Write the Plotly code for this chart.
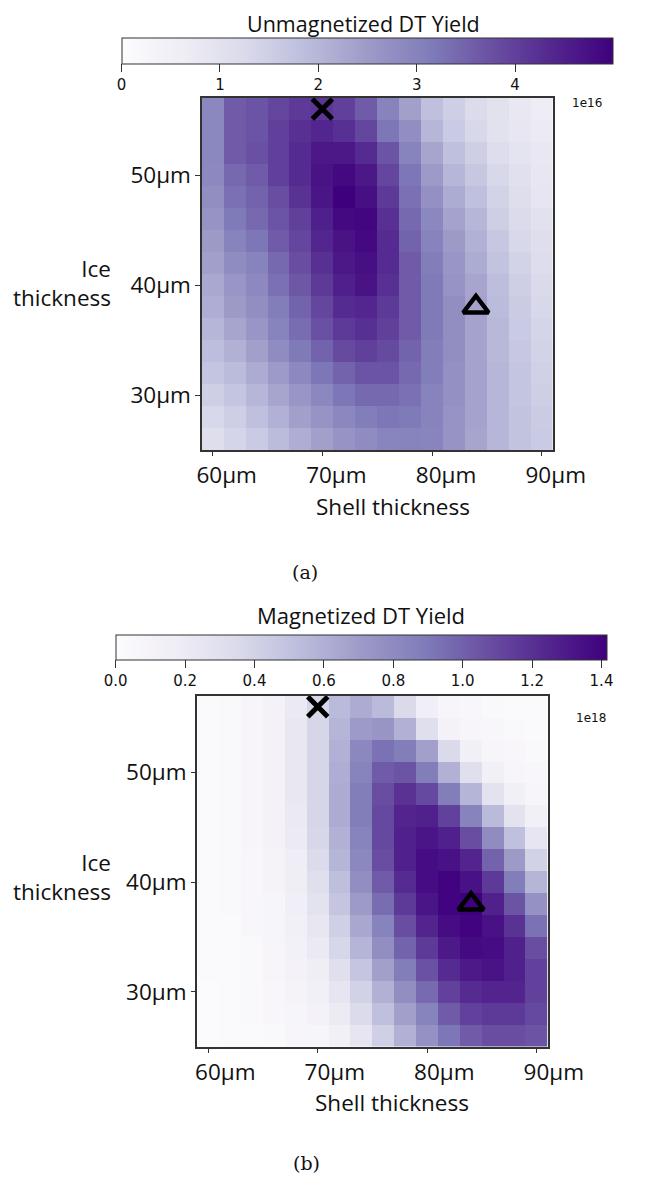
import plotly.graph_objects as go

# ---------------- data ----------------
shell_um = [60, 62, 64, 66, 68, 70, 72, 74, 76, 78, 80, 82, 84, 86, 88, 90]
ice_um = [56, 54, 52, 50, 48, 46, 44, 42, 40, 38, 36, 34, 32, 30, 28, 26]  # top row first

# Unmagnetized DT yield, units of 1e16 (rows: ice thickness 56 -> 26 um)
unmag_yield = [
    [2.90, 3.60, 3.70, 3.90, 4.10, 4.15, 4.00, 3.60, 3.00, 2.40, 1.80, 1.50, 1.20, 1.00, 0.80, 0.65],
    [2.90, 3.60, 3.70, 4.00, 4.25, 4.40, 4.25, 3.90, 3.20, 2.75, 2.00, 1.60, 1.30, 1.00, 0.85, 0.70],
    [2.90, 3.60, 3.75, 4.00, 4.30, 4.60, 4.60, 4.30, 3.70, 3.00, 2.30, 1.80, 1.50, 1.15, 0.95, 0.80],
    [2.85, 3.40, 3.60, 4.00, 4.30, 4.70, 4.85, 4.60, 3.90, 3.20, 2.50, 2.00, 1.65, 1.30, 1.05, 0.85],
    [2.75, 3.30, 3.50, 3.80, 4.20, 4.65, 4.99, 4.75, 4.10, 3.30, 2.70, 2.20, 1.80, 1.40, 1.10, 0.90],
    [2.65, 3.15, 3.40, 3.70, 4.00, 4.50, 4.85, 4.90, 4.25, 3.40, 2.90, 2.35, 2.00, 1.50, 1.20, 1.00],
    [2.50, 3.00, 3.20, 3.60, 3.90, 4.40, 4.70, 4.85, 4.30, 3.50, 3.00, 2.50, 2.10, 1.65, 1.30, 1.10],
    [2.40, 2.80, 3.00, 3.40, 3.80, 4.25, 4.60, 4.75, 4.30, 3.60, 3.10, 2.60, 2.20, 1.75, 1.40, 1.15],
    [2.25, 2.60, 2.85, 3.30, 3.65, 4.10, 4.50, 4.70, 4.25, 3.60, 3.15, 2.65, 2.30, 1.85, 1.50, 1.25],
    [2.15, 2.50, 2.75, 3.10, 3.50, 3.90, 4.30, 4.40, 4.10, 3.60, 3.15, 2.75, 2.35, 1.90, 1.55, 1.30],
    [2.00, 2.30, 2.60, 3.00, 3.35, 3.75, 4.10, 4.25, 4.00, 3.60, 3.15, 2.75, 2.35, 1.95, 1.60, 1.35],
    [1.85, 2.10, 2.40, 2.80, 3.15, 3.50, 3.85, 4.00, 3.85, 3.50, 3.10, 2.75, 2.35, 1.95, 1.65, 1.40],
    [1.70, 1.90, 2.20, 2.50, 2.85, 3.20, 3.50, 3.70, 3.70, 3.40, 3.10, 2.70, 2.35, 2.00, 1.70, 1.45],
    [1.50, 1.70, 2.00, 2.30, 2.60, 2.90, 3.20, 3.40, 3.40, 3.30, 3.00, 2.70, 2.35, 2.00, 1.70, 1.50],
    [1.30, 1.50, 1.80, 2.10, 2.40, 2.65, 2.90, 3.10, 3.20, 3.15, 3.00, 2.65, 2.35, 2.00, 1.75, 1.55],
    [1.10, 1.35, 1.60, 1.90, 2.15, 2.40, 2.65, 2.80, 2.95, 3.00, 2.95, 2.65, 2.30, 2.00, 1.75, 1.60],
]

# Magnetized DT yield, units of 1e18
mag_yield = [
    [0.03, 0.04, 0.07, 0.11, 0.21, 0.37, 0.54, 0.62, 0.54, 0.35, 0.16, 0.07, 0.06, 0.04, 0.03, 0.03],
    [0.03, 0.04, 0.07, 0.11, 0.23, 0.38, 0.57, 0.71, 0.74, 0.59, 0.31, 0.11, 0.07, 0.06, 0.04, 0.03],
    [0.03, 0.04, 0.07, 0.11, 0.23, 0.38, 0.59, 0.82, 0.93, 0.88, 0.68, 0.35, 0.14, 0.07, 0.06, 0.04],
    [0.03, 0.04, 0.07, 0.11, 0.23, 0.38, 0.61, 0.85, 1.02, 1.05, 0.88, 0.59, 0.31, 0.14, 0.07, 0.06],
    [0.03, 0.04, 0.07, 0.11, 0.23, 0.38, 0.62, 0.88, 1.08, 1.19, 1.10, 0.88, 0.57, 0.28, 0.14, 0.07],
    [0.03, 0.04, 0.07, 0.11, 0.21, 0.38, 0.62, 0.88, 1.10, 1.25, 1.27, 1.13, 0.85, 0.54, 0.28, 0.14],
    [0.03, 0.04, 0.07, 0.11, 0.20, 0.37, 0.59, 0.85, 1.10, 1.27, 1.32, 1.27, 1.08, 0.79, 0.51, 0.25],
    [0.03, 0.04, 0.06, 0.10, 0.18, 0.34, 0.57, 0.82, 1.08, 1.27, 1.36, 1.34, 1.25, 0.99, 0.71, 0.40],
    [0.03, 0.04, 0.06, 0.10, 0.17, 0.31, 0.52, 0.78, 1.02, 1.22, 1.36, 1.40, 1.34, 1.16, 0.88, 0.57],
    [0.03, 0.04, 0.06, 0.08, 0.16, 0.28, 0.48, 0.71, 0.95, 1.16, 1.32, 1.40, 1.415, 1.27, 1.05, 0.76],
    [0.03, 0.03, 0.06, 0.08, 0.14, 0.24, 0.42, 0.64, 0.85, 1.08, 1.25, 1.36, 1.40, 1.34, 1.19, 0.93],
    [0.03, 0.03, 0.04, 0.07, 0.13, 0.21, 0.37, 0.57, 0.78, 0.99, 1.16, 1.30, 1.37, 1.36, 1.27, 1.08],
    [0.03, 0.03, 0.04, 0.07, 0.11, 0.17, 0.31, 0.48, 0.68, 0.88, 1.06, 1.22, 1.30, 1.33, 1.27, 1.13],
    [0.01, 0.03, 0.04, 0.06, 0.10, 0.14, 0.25, 0.40, 0.59, 0.78, 0.96, 1.13, 1.22, 1.25, 1.25, 1.13],
    [0.01, 0.03, 0.04, 0.06, 0.08, 0.11, 0.20, 0.34, 0.51, 0.68, 0.85, 1.02, 1.13, 1.16, 1.16, 1.10],
    [0.01, 0.03, 0.03, 0.04, 0.07, 0.08, 0.14, 0.25, 0.42, 0.59, 0.76, 0.91, 1.02, 1.08, 1.08, 1.05],
]

unmag_max = 4.99   # 1e16
mag_max = 1.415    # 1e18

x_ticks = [60, 70, 80, 90]
x_tick_labels = ["60µm", "70µm", "80µm", "90µm"]
y_ticks = [30, 40, 50]
y_tick_labels = ["30µm", "40µm", "50µm"]
unmag_cb_ticks = [0, 1, 2, 3, 4]
unmag_cb_labels = ["0", "1", "2", "3", "4"]
mag_cb_ticks = [0.0, 0.2, 0.4, 0.6, 0.8, 1.0, 1.2, 1.4]
mag_cb_labels = ["0.0", "0.2", "0.4", "0.6", "0.8", "1.0", "1.2", "1.4"]

x_marker_pt = ([70], [56])   # "X" marker (shell, ice)
tri_marker_pt = ([84], [38])  # triangle marker (shell, ice)

# ---------------- layout helpers ----------------
# the page body adds an 8px margin; the figure fills the rest of the 650x1180 window
OFF = 8
W, H = 650 - OFF, 1180 - OFF


def px_x(p):
    return (p - OFF) / W


def px_y(p):
    return 1 - (p - OFF) / H


SANS = "Open Sans"
CB_FONT = "DejaVu Sans"
BLACK = "#111111"

fig = go.Figure()


def add_panel(z, zmax, xa, ya, cb_center_x, cb_top, cb_len, cb_thick, tickvals, ticktext):
    fig.add_trace(go.Heatmap(
        x=shell_um, y=ice_um, z=z, zmin=0, zmax=zmax,
        colorscale="Purples", xaxis=xa, yaxis=ya,
        hoverinfo="skip",
        colorbar=dict(
            orientation="h", x=px_x(cb_center_x), xanchor="center",
            y=px_y(cb_top), yanchor="top",
            lenmode="pixels", len=cb_len,
            thicknessmode="pixels", thickness=cb_thick,
            xpad=0, ypad=0,
            outlinewidth=1, outlinecolor="#333333",
            ticks="outside", ticklen=8, tickwidth=1, tickcolor="#333333",
            tickvals=tickvals, ticktext=ticktext,
            tickfont=dict(family=CB_FONT, size=15, color=BLACK),
        ),
    ))
    fig.add_trace(go.Scatter(
        x=x_marker_pt[0], y=x_marker_pt[1], xaxis=xa, yaxis=ya, mode="markers",
        marker=dict(symbol="x-thin", size=20, line=dict(width=5, color="black")),
        showlegend=False, hoverinfo="skip",
    ))
    fig.add_trace(go.Scatter(
        x=tri_marker_pt[0], y=tri_marker_pt[1], xaxis=xa, yaxis=ya, mode="markers",
        marker=dict(symbol="triangle-up-open", size=22, color="black",
                    line=dict(width=4.5, color="black")),
        showlegend=False, hoverinfo="skip",
    ))


add_panel(unmag_yield, unmag_max, "x", "y", 367, 37.7, 490.6, 25.6, unmag_cb_ticks, unmag_cb_labels)
add_panel(mag_yield, mag_max, "x2", "y2", 361.2, 635, 491, 25, mag_cb_ticks, mag_cb_labels)

axis_common = dict(
    showgrid=False, zeroline=False, showline=True, mirror=True,
    linecolor="#333333", linewidth=1.5,
    ticks="outside", ticklen=4.5, tickwidth=1.2, tickcolor="#333333",
    tickfont=dict(family=SANS, size=22.5, color=BLACK),
)

fig.update_layout(
    width=W, height=H, margin=dict(l=0, r=0, t=0, b=0, autoexpand=False),
    paper_bgcolor="white", plot_bgcolor="white", showlegend=False,
    xaxis=dict(domain=[px_x(201.7), px_x(552.7)], range=[59, 91], anchor="y",
               tickvals=x_ticks, ticktext=x_tick_labels, ticklabelshift=14, **axis_common),
    yaxis=dict(domain=[px_y(450), px_y(98)], range=[25, 57], anchor="x",
               tickvals=y_ticks, ticktext=y_tick_labels, **axis_common),
    xaxis2=dict(domain=[px_x(197.3), px_x(547.7)], range=[59, 91], anchor="y2",
                tickvals=x_ticks, ticktext=x_tick_labels, ticklabelshift=17, **axis_common),
    yaxis2=dict(domain=[px_y(1046.7), px_y(695.7)], range=[25, 57], anchor="x2",
                tickvals=y_ticks, ticktext=y_tick_labels, **axis_common),
)


def ann(text, xp, yp, size, family=SANS, xanchor="center", align="center"):
    fig.add_annotation(
        text=text, x=px_x(xp), y=px_y(yp), xref="paper", yref="paper",
        xanchor=xanchor, yanchor="middle", align=align, showarrow=False,
        font=dict(family=family, size=size, color=BLACK),
    )


ann("Unmagnetized DT Yield", 364, 23, 21.5)
ann("Magnetized DT Yield", 361, 615, 22)
ann("1e16", 587, 103, 12, family=CB_FONT)
ann("1e18", 591, 718, 12, family=CB_FONT)
ann("Shell thickness", 393, 506, 22.5)
ann("Shell thickness", 392, 1102, 22.5)
ann("Ice<br>thickness", 113, 283, 22.5, xanchor="right", align="right")
ann("Ice<br>thickness", 113, 877, 22.5, xanchor="right", align="right")
ann("(a)", 305, 572, 19, family="DejaVu Serif")
ann("(b)", 306, 1163, 19, family="DejaVu Serif")

fig.write_html("out.html")
